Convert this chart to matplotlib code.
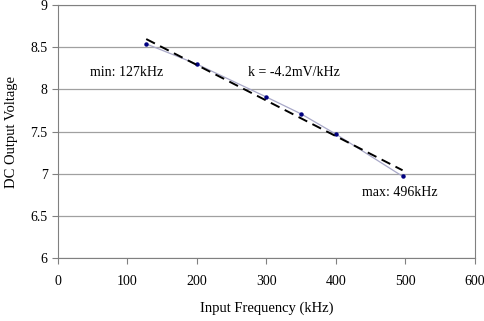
import numpy as np
import matplotlib
matplotlib.use('Agg')
import matplotlib.pyplot as plt

# measured points (kHz, V)
freq_khz = [127, 200, 300, 350, 400, 496]
dc_volts = [8.54, 8.30, 7.91, 7.71, 7.47, 6.97]

x_ticks = [0, 100, 200, 300, 400, 500, 600]
y_ticks = [6, 6.5, 7, 7.5, 8, 8.5, 9]

plt.rcParams['font.family'] = ['Liberation Serif', 'DejaVu Serif']

fig = plt.figure(figsize=(4.85, 3.21), dpi=100)
ax = fig.add_axes([0.1196, 0.196, 0.8594, 0.788])

# grid lines behind data
for yv in y_ticks:
    ax.axhline(yv, color='#a0a0a0', lw=0.9, zorder=0)

ax.plot(freq_khz, dc_volts, color='#a8a8c8', lw=0.9, marker='o', ms=2.2,
        mfc='#000080', mec='#000080', zorder=2)

# linear trend line
k, b = np.polyfit(freq_khz, dc_volts, 1)
xs = np.array([freq_khz[0], freq_khz[-1]])
ax.plot(xs, k * xs + b, color='black', lw=1.4, ls=(0, (5, 3)), zorder=3)

ax.text(46, 8.2, 'min: 127kHz', fontsize=10, va='center')
ax.text(273, 8.2, 'k = -4.2mV/kHz', fontsize=10, va='center')
ax.text(437, 6.78, 'max: 496kHz', fontsize=10, va='center')

ax.set_xlim(0, 600)
ax.set_ylim(6, 9)
ax.set_xticks(x_ticks)
ax.set_yticks(y_ticks)
ax.set_yticklabels(['6', '6.5', '7', '7.5', '8', '8.5', '9'])
ax.tick_params(labelsize=10, colors='#808080', length=4, width=0.8, labelcolor='black')
ax.tick_params(axis='x', pad=8)
for s in ax.spines.values():
    s.set_color('#808080')
    s.set_linewidth(0.8)

ax.set_xlabel('Input Frequency (kHz)', fontsize=10.5, labelpad=10)
ax.set_ylabel('DC Output Voltage', fontsize=10.5, labelpad=9)

fig.savefig('out.png', dpi=100)
